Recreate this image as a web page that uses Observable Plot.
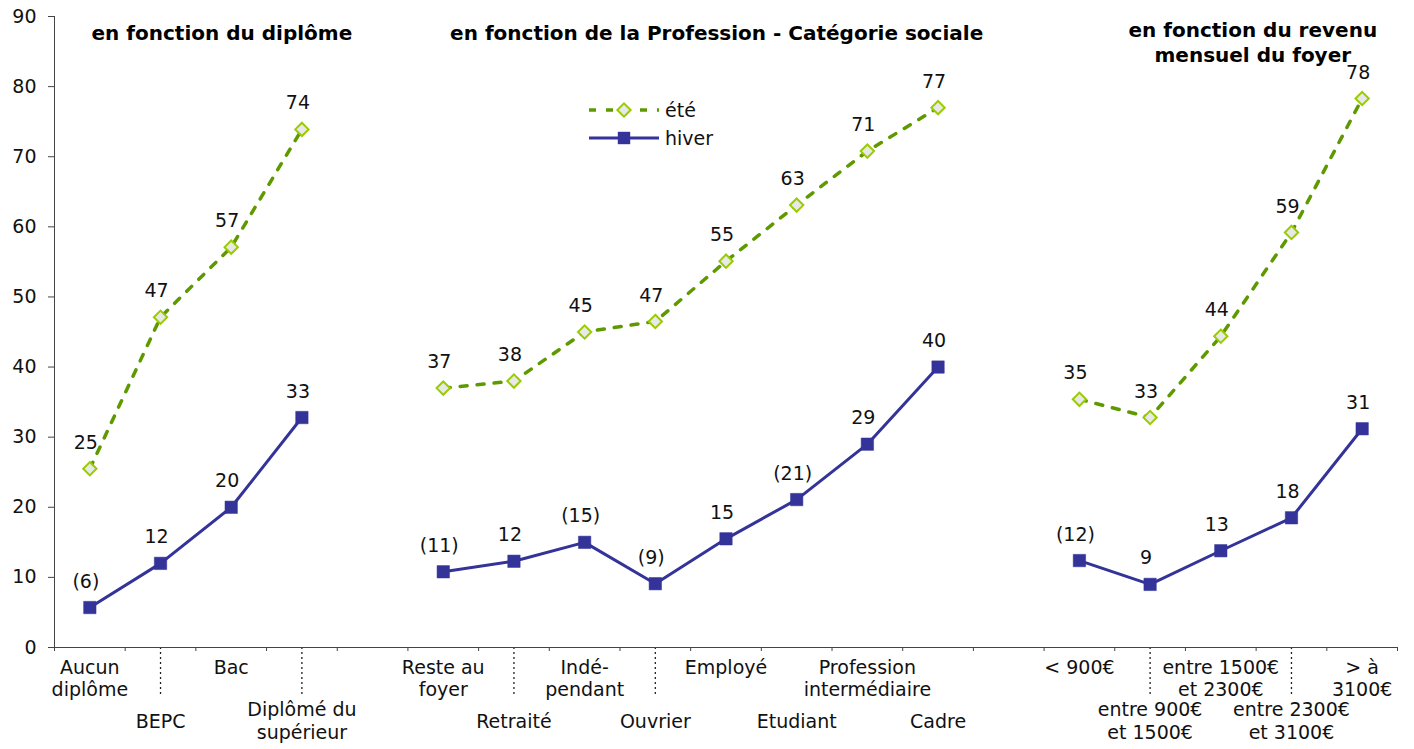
<!DOCTYPE html>
<html><head><meta charset="utf-8">
<script src="https://cdn.jsdelivr.net/npm/d3@7"></script>
<script src="https://cdn.jsdelivr.net/npm/@observablehq/plot@0.6"></script>
<style>body{margin:0;background:#fff} svg{display:block}</style>
</head><body><div id="chart"></div>
<script>
// ---- data ----
const diplomeCats = ["Aucun\ndiplôme", "BEPC", "Bac", "Diplômé du\nsupérieur"];
const diplomeEte = [25.5, 47.1, 57.1, 73.9];
const diplomeHiver = [5.7, 12.0, 20.0, 32.8];
const diplomeEteLabels = ["25", "47", "57", "74"];
const diplomeHiverLabels = ["(6)", "12", "20", "33"];

const pcsCats = ["Reste au\nfoyer", "Retraité", "Indé-\npendant", "Ouvrier", "Employé", "Etudiant", "Profession\nintermédiaire", "Cadre"];
const pcsEte = [37.0, 38.0, 45.0, 46.5, 55.1, 63.1, 70.8, 77.0];
const pcsHiver = [10.8, 12.3, 15.0, 9.1, 15.5, 21.1, 29.0, 40.0];
const pcsEteLabels = ["37", "38", "45", "47", "55", "63", "71", "77"];
const pcsHiverLabels = ["(11)", "12", "(15)", "(9)", "15", "(21)", "29", "40"];

const revenuCats = ["< 900€", "entre 900€\net 1500€", "entre 1500€\net 2300€", "entre 2300€\net 3100€", "> à\n3100€"];
const revenuEte = [35.4, 32.8, 44.4, 59.2, 78.3];
const revenuHiver = [12.4, 9.0, 13.8, 18.5, 31.2];
const revenuEteLabels = ["35", "33", "44", "59", "78"];
const revenuHiverLabels = ["(12)", "9", "13", "18", "31"];

const groupTitles = ["en fonction du diplôme", "en fonction de la Profession - Catégorie sociale", "en fonction du revenu\nmensuel du foyer"];
const separatorCats = ["BEPC", "Diplômé du\nsupérieur", "Retraité", "Ouvrier", "entre 900€\net 1500€", "entre 2300€\net 3100€"];
const yTicks = [0, 10, 20, 30, 40, 50, 60, 70, 80, 90];
const seriesNames = ["été", "hiver"];

// ---- build tables ----
const groups = [
  {cats: diplomeCats, ete: diplomeEte, hiver: diplomeHiver, el: diplomeEteLabels, hl: diplomeHiverLabels},
  {cats: pcsCats, ete: pcsEte, hiver: pcsHiver, el: pcsEteLabels, hl: pcsHiverLabels},
  {cats: revenuCats, ete: revenuEte, hiver: revenuHiver, el: revenuEteLabels, hl: revenuHiverLabels}
];
let idx = 0;
const rows = [], cats = [], titles = [];
groups.forEach((g, gi) => {
  if (gi > 0) idx++;
  const start = idx;
  g.cats.forEach((c, i) => {
    cats.push({x: idx, label: c, row: i % 2, sep: separatorCats.includes(c)});
    rows.push({x: idx, serie: seriesNames[0], v: g.ete[i], lab: g.el[i], group: gi});
    rows.push({x: idx, serie: seriesNames[1], v: g.hiver[i], lab: g.hl[i], group: gi});
    idx++;
  });
  titles.push({x: (start + idx - 1) / 2, text: groupTitles[gi]});
});
const nSlots = idx;
const boundaries = d3.range(nSlots + 1).map(i => i - 0.5);
const ete = rows.filter(d => d.serie === seriesNames[0]);
const hiver = rows.filter(d => d.serie === seriesNames[1]);

const GREEN = "#5f9900", LGREEN = "#99cc00", BLUE = "#333399";
const FONT = "DejaVu Sans";
const FS = 19;

const plot = Plot.plot({
  width: 1414, height: 749,
  marginLeft: 54, marginRight: 17, marginTop: 16, marginBottom: 102,
  style: {fontFamily: FONT, fontSize: FS + "px", color: "#111", background: "#fff"},
  x: {domain: [-0.5, nSlots - 0.5], axis: null},
  y: {domain: [0, 90], axis: null},
  marks: [
    Plot.axisY({ticks: yTicks, tickSize: 6, tickPadding: 12, label: null, fontSize: FS, stroke: "#444"}),
    Plot.axisX({ticks: boundaries, tickSize: 4, tickFormat: () => "", label: null, stroke: "#444"}),
    Plot.axisX({ticks: cats.filter(d => d.sep).map(d => d.x), tickSize: 50, tickFormat: () => "", label: null, stroke: "#222", strokeDasharray: "2,3", strokeWidth: 1.3}),
    Plot.frame({anchor: "left", stroke: "#444"}),
    Plot.frame({anchor: "bottom", stroke: "#444"}),
    Plot.text(cats.filter(d => d.row === 0), {x: "x", text: "label", frameAnchor: "bottom", lineAnchor: "top", dy: 10, lineHeight: 1.2, fontSize: FS, fill: "#111"}),
    Plot.text(cats.filter(d => d.row === 1), {x: "x", text: "label", frameAnchor: "bottom", lineAnchor: "middle", dy: 73, lineHeight: 1.2, fontSize: FS, fill: "#111"}),
    Plot.text(titles.filter(d => !d.text.includes("\n")), {x: "x", text: "text", frameAnchor: "top", lineAnchor: "top", dx: 26, dy: 9, fontSize: 20, fontWeight: "bold", fill: "#000"}),
    Plot.text(titles.filter(d => d.text.includes("\n")), {x: "x", text: "text", frameAnchor: "top", lineAnchor: "top", dx: 32, dy: 3, lineHeight: 1.25, fontSize: 20, fontWeight: "bold", fill: "#000"}),
    Plot.line(ete, {x: "x", y: "v", z: "group", stroke: GREEN, strokeWidth: 3.5, strokeDasharray: "7,10"}),
    Plot.line(hiver, {x: "x", y: "v", z: "group", stroke: BLUE, strokeWidth: 3}),
    Plot.dot(ete, {x: "x", y: "v", symbol: "diamond2", r: 6, fill: "#e8e8e8", stroke: LGREEN, strokeWidth: 2}),
    Plot.dot(hiver, {x: "x", y: "v", symbol: "square", r: 7, fill: BLUE, stroke: BLUE, strokeWidth: 0.5}),
    Plot.text(rows, {x: "x", y: "v", text: "lab", dx: -4, dy: -26, fontSize: FS, fill: "#111"})
  ]
});
document.getElementById("chart").appendChild(plot);

// ---- legend ----
const svg = d3.select(plot);
const lg = svg.append("g").attr("font-family", FONT).attr("font-size", FS).attr("fill", "#111").attr("text-anchor", "start");
const legendItems = [
  {name: seriesNames[0], y: 110, stroke: GREEN, dash: "7,10", w: 3.5, sym: "diamond2"},
  {name: seriesNames[1], y: 138, stroke: BLUE, dash: null, w: 3, sym: "square"}
];
legendItems.forEach(it => {
  lg.append("line").attr("x1", 589).attr("x2", 659).attr("y1", it.y).attr("y2", it.y)
    .attr("stroke", it.stroke).attr("stroke-width", it.w).attr("stroke-dasharray", it.dash);
  if (it.sym === "square") {
    lg.append("path").attr("d", d3.symbol(d3.symbolSquare, Math.PI * 49)()).attr("transform", `translate(624,${it.y})`).attr("fill", BLUE);
  } else {
    lg.append("path").attr("d", d3.symbol(d3.symbolDiamond2, Math.PI * 36)()).attr("transform", `translate(624,${it.y})`).attr("fill", "#e8e8e8").attr("stroke", LGREEN).attr("stroke-width", 2);
  }
  lg.append("text").attr("x", 665).attr("y", it.y).attr("dy", "0.35em").attr("text-anchor", "start").text(it.name);
});
</script>
</body></html>
